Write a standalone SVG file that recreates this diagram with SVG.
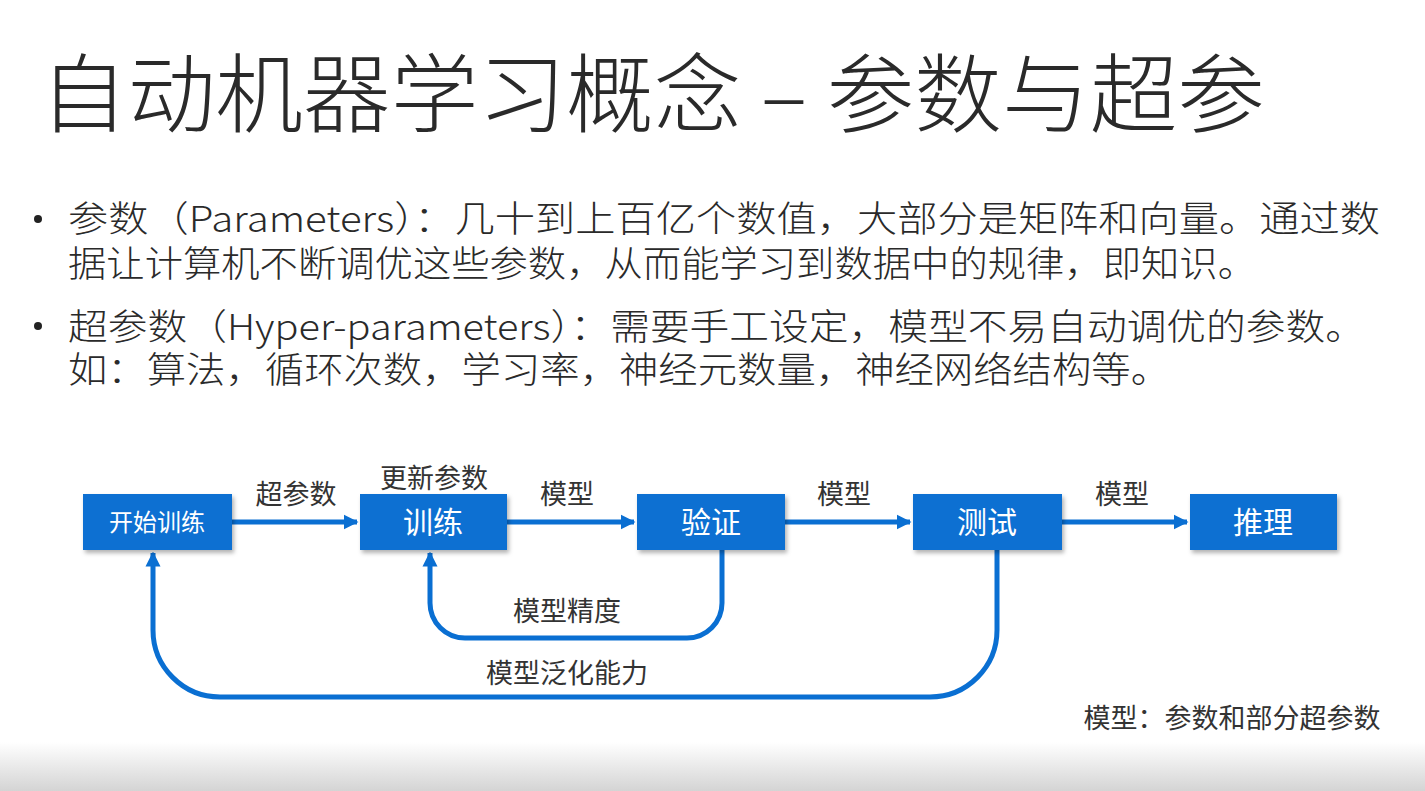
<svg xmlns="http://www.w3.org/2000/svg" width="1425" height="791" viewBox="0 0 1425 791">
<style>
.t{font-family:"Noto Sans CJK SC","Noto Sans",sans-serif;fill:#2a2a2a}
.title{font-size:86px;font-weight:300}
.body{font-size:36px;font-weight:300}
.lbl{font-size:27px;text-anchor:middle;fill:#333}
.node rect{fill:#0a6fd2;filter:url(#sh)}
.node text{font-family:"Noto Sans CJK SC",sans-serif;fill:#fff;text-anchor:middle;font-size:30px}
.c{fill:none;stroke:#0a6fd2;stroke-width:5}
</style>
<defs>
<filter id="sh" x="-10%" y="-20%" width="130%" height="150%"><feDropShadow dx="2" dy="3" stdDeviation="2" flood-color="#000" flood-opacity="0.3"/></filter>
<marker id="ah" viewBox="0 0 10 10" refX="9" refY="5" markerWidth="3" markerHeight="3.2" orient="auto" markerUnits="strokeWidth"><path d="M0,0 L10,5 L0,10 z" fill="#0a6fd2"/></marker>
<linearGradient id="bg" x1="0" y1="0" x2="0" y2="1"><stop offset="0" stop-color="#ffffff"/><stop offset="1" stop-color="#d4d4d4"/></linearGradient>
</defs>
<rect width="1425" height="791" fill="#fff"/>
<rect x="0" y="742" width="1425" height="49" fill="url(#bg)"/>
<text class="t title" x="40" y="126" textLength="1225" lengthAdjust="spacingAndGlyphs">自动机器学习概念 – 参数与超参</text>
<circle cx="38" cy="219" r="4" fill="#222"/>
<circle cx="38" cy="326" r="4" fill="#222"/>
<text class="t body"><tspan x="68" y="232" textLength="1312" lengthAdjust="spacingAndGlyphs">参数（Parameters）：几十到上百亿个数值，大部分是矩阵和向量。通过数</tspan><tspan x="68" y="277" textLength="1188" lengthAdjust="spacingAndGlyphs">据让计算机不断调优这些参数，从而能学习到数据中的规律，即知识。</tspan></text>
<text class="t body"><tspan x="68" y="340" textLength="1297" lengthAdjust="spacingAndGlyphs">超参数（Hyper-parameters）：需要手工设定，模型不易自动调优的参数。</tspan><tspan x="68" y="383" textLength="1102" lengthAdjust="spacingAndGlyphs">如：算法，循环次数，学习率，神经元数量，神经网络结构等。</tspan></text>
<g id="connectors">
<line class="c" x1="232" y1="522" x2="357" y2="522" marker-end="url(#ah)"/>
<line class="c" x1="507" y1="522" x2="634" y2="522" marker-end="url(#ah)"/>
<line class="c" x1="785" y1="522" x2="910" y2="522" marker-end="url(#ah)"/>
<line class="c" x1="1062" y1="522" x2="1187" y2="522" marker-end="url(#ah)"/>
<path class="c" d="M722,550 V603 A35,35 0 0 1 687,638 H465 A35,35 0 0 1 430,603 V553" marker-end="url(#ah)"/>
<path class="c" d="M997,550 V630 A67,67 0 0 1 930,697 H220 A67,67 0 0 1 153,630 V553" marker-end="url(#ah)"/>
</g>
<text class="t lbl" x="296" y="504">超参数</text>
<text class="t lbl" x="434" y="488">更新参数</text>
<text class="t lbl" x="567" y="504">模型</text>
<text class="t lbl" x="844" y="504">模型</text>
<text class="t lbl" x="1122" y="504">模型</text>
<text class="t lbl" x="567" y="621">模型精度</text>
<text class="t lbl" x="567" y="683">模型泛化能力</text>
<text class="t lbl" x="1232" y="728">模型：参数和部分超参数</text>
<g id="n1" class="node"><rect x="83" y="494" width="149" height="56"/><text x="157" y="531" style="font-size:24px">开始训练</text></g>
<g id="n2" class="node"><rect x="360" y="494" width="147" height="56"/><text x="433" y="533">训练</text></g>
<g id="n3" class="node"><rect x="637" y="494" width="148" height="56"/><text x="711" y="533">验证</text></g>
<g id="n4" class="node"><rect x="913" y="494" width="149" height="56"/><text x="987" y="533">测试</text></g>
<g id="n5" class="node"><rect x="1190" y="494" width="147" height="56"/><text x="1263" y="533">推理</text></g>
</svg>
